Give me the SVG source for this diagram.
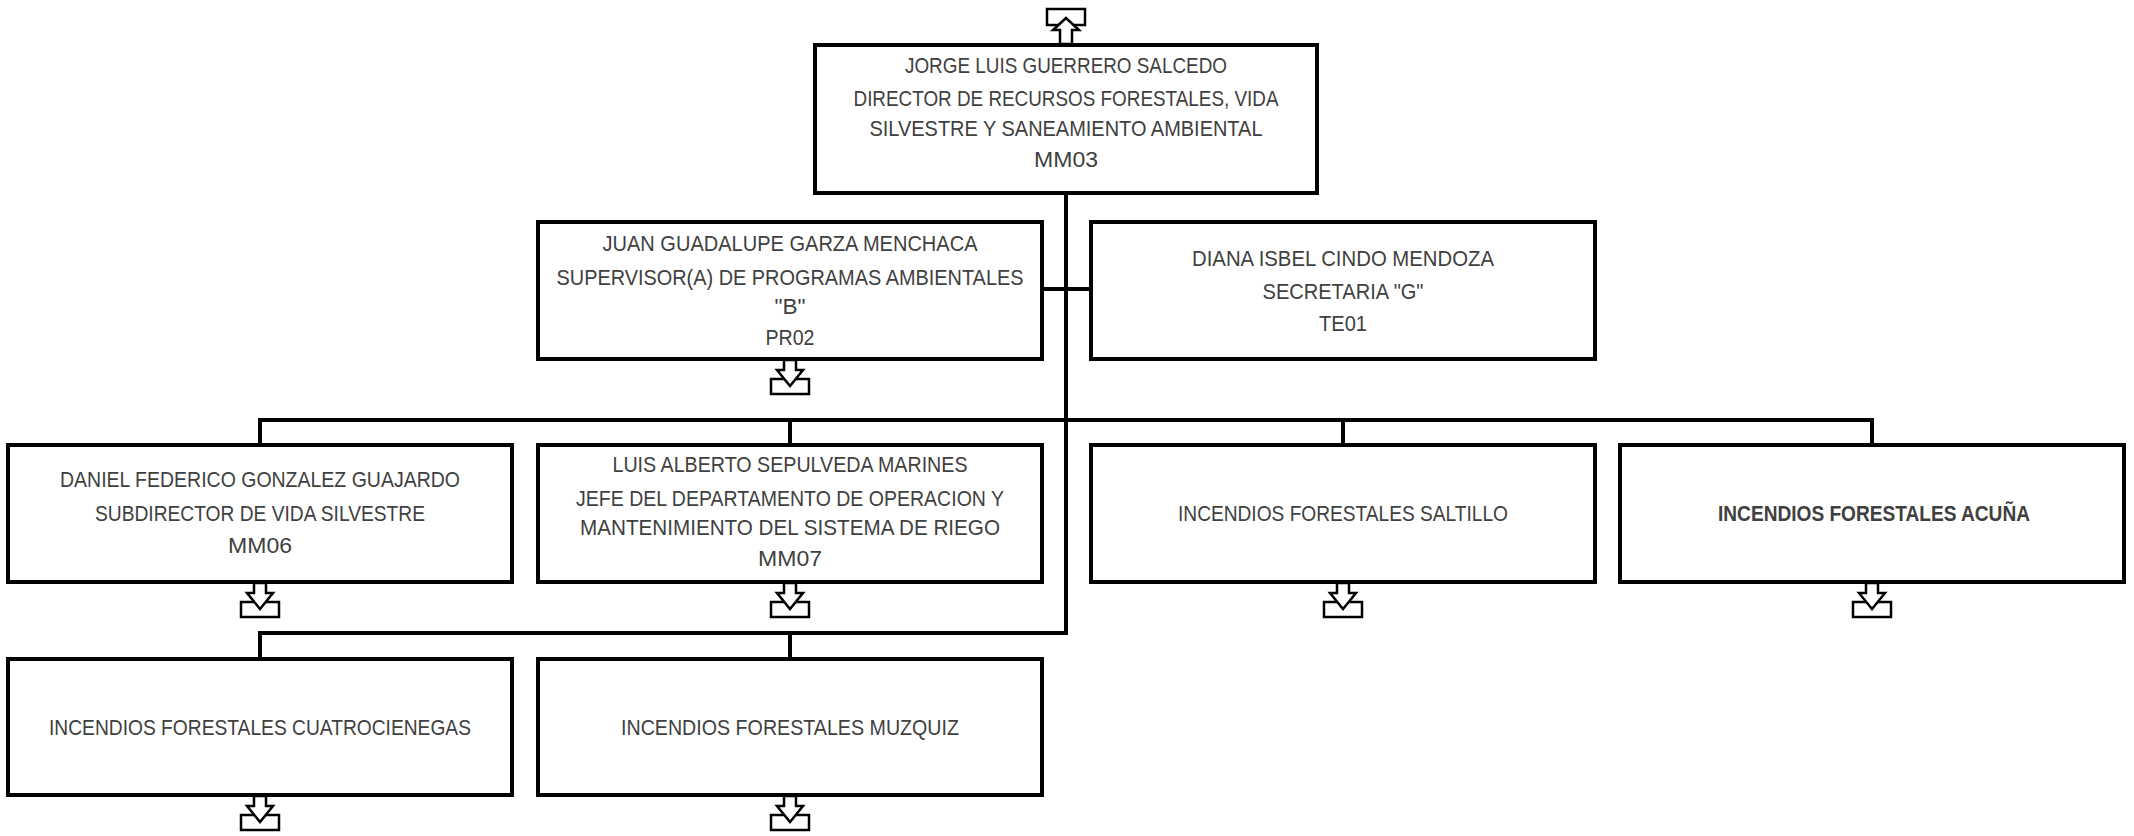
<svg xmlns="http://www.w3.org/2000/svg" xmlns:xlink="http://www.w3.org/1999/xlink" width="2134" height="836" viewBox="0 0 2134 836">
<style>
.box{fill:#fff;stroke:#000;stroke-width:4}
.t{font-family:"Liberation Sans",Arial,sans-serif;font-size:22px;fill:#404040;text-anchor:middle}
.b{font-weight:bold}
.conn{fill:none;stroke:#000;stroke-width:4}
.icon{fill:#fff;stroke:#000;stroke-width:2.5}
</style>
<defs>
<g id="down">
<rect class="icon" x="-19" y="20" width="38" height="15"/>
<polygon class="icon" points="-6,1 6,1 6,11 13,11 0,27 -13,11 -6,11"/>
</g>
<g id="up">
<rect class="icon" x="-19" y="-36" width="38" height="16"/>
<polygon class="icon" points="-6,-1 6,-1 6,-15 13,-15 0,-27 -13,-15 -6,-15"/>
</g>
</defs>
<rect width="2134" height="836" fill="#fff"/>
<g id="connectors">
<polyline class="conn" points="1066,193 1066,633 260,633 260,659"/>
<line class="conn" x1="1042" y1="289" x2="1091" y2="289"/>
<polyline class="conn" points="260,445 260,420 1872,420 1872,445"/>
<line class="conn" x1="790" y1="420" x2="790" y2="445"/>
<line class="conn" x1="1343" y1="420" x2="1343" y2="445"/>
<line class="conn" x1="790" y1="633" x2="790" y2="659"/>
</g>
<g id="n-director">
<rect class="box" x="815" y="45" width="502" height="148"/>
<text class="t" x="1066" y="73" textLength="322" lengthAdjust="spacingAndGlyphs">JORGE LUIS GUERRERO SALCEDO</text>
<text class="t" x="1066" y="106" textLength="425" lengthAdjust="spacingAndGlyphs">DIRECTOR DE RECURSOS FORESTALES, VIDA</text>
<text class="t" x="1066" y="136" textLength="393" lengthAdjust="spacingAndGlyphs">SILVESTRE Y SANEAMIENTO AMBIENTAL</text>
<text class="t" x="1066" y="167" textLength="64" lengthAdjust="spacingAndGlyphs">MM03</text>
<use xlink:href="#up" x="1066" y="45"/>
</g>
<g id="n-supervisor">
<rect class="box" x="538" y="222" width="504" height="137"/>
<text class="t" x="790" y="251" textLength="375" lengthAdjust="spacingAndGlyphs">JUAN GUADALUPE GARZA MENCHACA</text>
<text class="t" x="790" y="285" textLength="467" lengthAdjust="spacingAndGlyphs">SUPERVISOR(A) DE PROGRAMAS AMBIENTALES</text>
<text class="t" x="790" y="314" textLength="31" lengthAdjust="spacingAndGlyphs">"B"</text>
<text class="t" x="790" y="345" textLength="49" lengthAdjust="spacingAndGlyphs">PR02</text>
<use xlink:href="#down" x="790" y="359"/>
</g>
<g id="n-secretaria">
<rect class="box" x="1091" y="222" width="504" height="137"/>
<text class="t" x="1343" y="266" textLength="302" lengthAdjust="spacingAndGlyphs">DIANA ISBEL CINDO MENDOZA</text>
<text class="t" x="1343" y="299" textLength="161" lengthAdjust="spacingAndGlyphs">SECRETARIA "G"</text>
<text class="t" x="1343" y="331" textLength="48" lengthAdjust="spacingAndGlyphs">TE01</text>
</g>
<g id="n-subdirector">
<rect class="box" x="8" y="445" width="504" height="137"/>
<text class="t" x="260" y="487" textLength="400" lengthAdjust="spacingAndGlyphs">DANIEL FEDERICO GONZALEZ GUAJARDO</text>
<text class="t" x="260" y="521" textLength="330" lengthAdjust="spacingAndGlyphs">SUBDIRECTOR DE VIDA SILVESTRE</text>
<text class="t" x="260" y="553" textLength="64" lengthAdjust="spacingAndGlyphs">MM06</text>
<use xlink:href="#down" x="260" y="582"/>
</g>
<g id="n-jefe">
<rect class="box" x="538" y="445" width="504" height="137"/>
<text class="t" x="790" y="472" textLength="355" lengthAdjust="spacingAndGlyphs">LUIS ALBERTO SEPULVEDA MARINES</text>
<text class="t" x="790" y="506" textLength="428" lengthAdjust="spacingAndGlyphs">JEFE DEL DEPARTAMENTO DE OPERACION Y</text>
<text class="t" x="790" y="535" textLength="420" lengthAdjust="spacingAndGlyphs">MANTENIMIENTO DEL SISTEMA DE RIEGO</text>
<text class="t" x="790" y="566" textLength="64" lengthAdjust="spacingAndGlyphs">MM07</text>
<use xlink:href="#down" x="790" y="582"/>
</g>
<g id="n-saltillo">
<rect class="box" x="1091" y="445" width="504" height="137"/>
<text class="t" x="1343" y="521" textLength="330" lengthAdjust="spacingAndGlyphs">INCENDIOS FORESTALES SALTILLO</text>
<use xlink:href="#down" x="1343" y="582"/>
</g>
<g id="n-acuna">
<rect class="box" x="1620" y="445" width="504" height="137"/>
<text class="t b" x="1874" y="521" textLength="312" lengthAdjust="spacingAndGlyphs">INCENDIOS FORESTALES ACUÑA</text>
<use xlink:href="#down" x="1872" y="582"/>
</g>
<g id="n-cuatrocienegas">
<rect class="box" x="8" y="659" width="504" height="136"/>
<text class="t" x="260" y="735" textLength="422" lengthAdjust="spacingAndGlyphs">INCENDIOS FORESTALES CUATROCIENEGAS</text>
<use xlink:href="#down" x="260" y="795"/>
</g>
<g id="n-muzquiz">
<rect class="box" x="538" y="659" width="504" height="136"/>
<text class="t" x="790" y="735" textLength="338" lengthAdjust="spacingAndGlyphs">INCENDIOS FORESTALES MUZQUIZ</text>
<use xlink:href="#down" x="790" y="795"/>
</g>
</svg>
